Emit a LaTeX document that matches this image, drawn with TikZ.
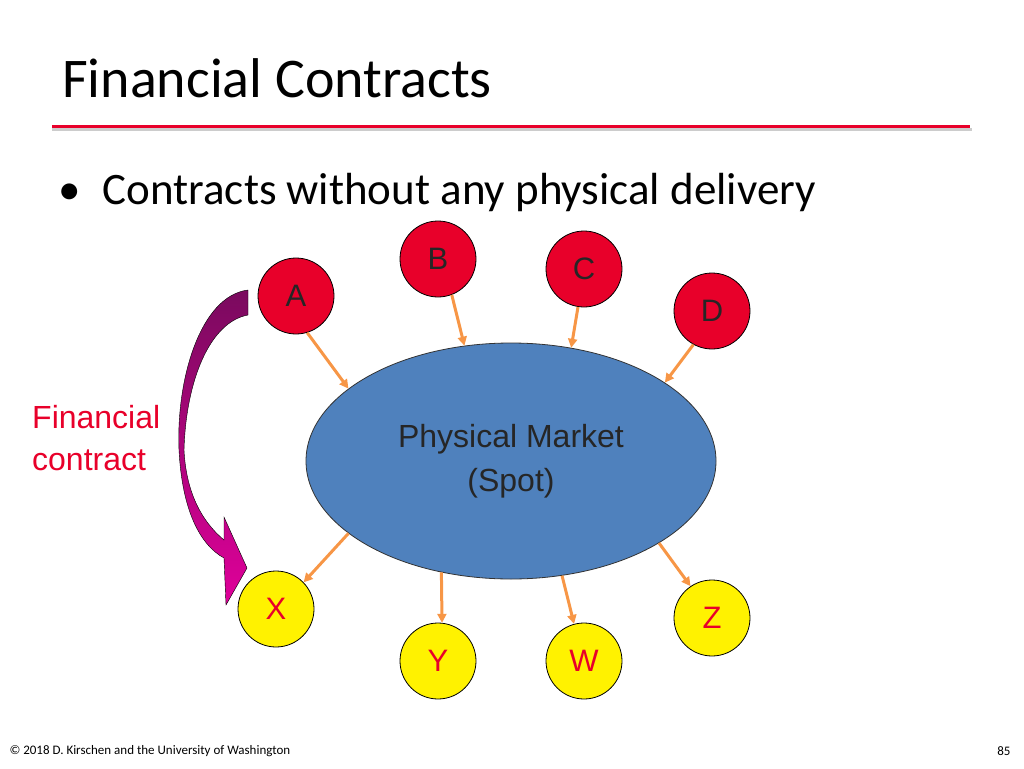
\documentclass[tikz,border=0pt]{standalone}
\usepackage{fontspec}
\setmainfont{Carlito}
\newfontfamily\arialfont{Liberation Sans}
\usetikzlibrary{arrows.meta,shapes.geometric}
\definecolor{spotblue}{HTML}{4F81BD}
\definecolor{flowred}{HTML}{E8002A}
\definecolor{darrow}{HTML}{F79646}
\definecolor{fcpurple}{HTML}{7A0A5E}
\definecolor{fcmagenta}{HTML}{E0009A}

\tikzset{
  party/.style={circle,draw=black,thick,minimum size=76pt,inner sep=0pt,font=\arialfont\fontsize{31}{36}\selectfont},
  seller/.style={party,fill=flowred,text=black!85},
  buyer/.style={party,fill=yellow,text=flowred},
  flow/.style={-{Triangle[length=9pt,width=9pt]},darrow,line width=3pt}
}

\begin{document}
\begin{tikzpicture}[x=1pt,y=-1pt]
  \useasboundingbox (0,0) rectangle (1024,768);
  \node[anchor=west,inner sep=0pt,font=\fontsize{56}{60}\selectfont] (title) at (62,78) {Financial Contracts};
  \fill[black!20] (52,128) rectangle (972,131);
  \draw[flowred,line width=3pt] (52,126) -- (970,126);
  \node[anchor=west,inner sep=0pt,font=\fontsize{45}{50}\selectfont] (bullet) at (58,192) {\textbullet\hspace{22pt}Contracts without any physical delivery};

  \node[ellipse,draw=black!80,thick,fill=spotblue,minimum width=410pt,minimum height=236pt,align=center,
        font=\arialfont\fontsize{32}{44}\selectfont,text=black!85] (mkt) at (511,461) {Physical Market\\(Spot)};

  \node[seller] (A) at (296,296) {A};
  \node[seller] (B) at (438,259) {B};
  \node[seller] (C) at (584,269) {C};
  \node[seller] (D) at (712,311) {D};
  \node[buyer] (X) at (276,609) {X};
  \node[buyer] (Y) at (438,661) {Y};
  \node[buyer] (W) at (584,661) {W};
  \node[buyer] (Z) at (712,618) {Z};

  \draw[flow] (A.-73) -- (mkt.156);
  \draw[flow] (B.-69) -- (mkt.112);
  \draw[flow] (C.-99) -- (mkt.62);
  \draw[flow] (D.-119) -- (mkt.27);
  \draw[flow] (mkt.204) -- (X.44);
  \draw[flow] (mkt.238) -- (Y.84);
  \draw[flow] (mkt.-66) -- (W.105);
  \draw[flow] (mkt.-29) -- (Z.124);

  % curved contract arrow
  \draw[black,thin,top color=fcpurple,bottom color=fcmagenta,shading angle=0]
    (248,290) .. controls (200,296) and (176,380) .. (179,450)
    .. controls (182,510) and (200,545) .. (224,558) -- (226,605) -- (247,568) -- (224,517) -- (224,540)
    .. controls (200,520) and (186,490) .. (184,450)
    .. controls (186,380) and (210,322) .. (248,315) -- cycle;

  \node[anchor=west,align=left,text=flowred,inner sep=0pt,font=\arialfont\fontsize{32}{42}\selectfont] (fc) at (32,438) {Financial\\contract};

  \node[anchor=west,font=\fontsize{13}{15}\selectfont] (foot) at (6,751) {\textcopyright\ 2018 D. Kirschen and the University of Washington};
  \node[anchor=east,font=\fontsize{13}{15}\selectfont] (page) at (1014,751) {85};
\end{tikzpicture}
\end{document}
